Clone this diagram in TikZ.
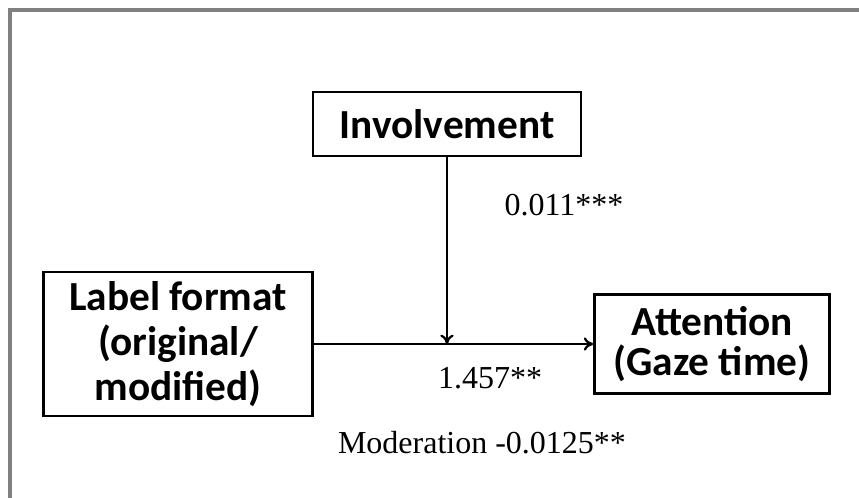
\documentclass[tikz,border=0pt]{standalone}
\usepackage{fontspec}
\setmainfont{Liberation Serif}
\newfontfamily\boxfont{Carlito}
\usetikzlibrary{arrows.meta,positioning}

\begin{document}
\begin{tikzpicture}[x=0.75pt,y=-0.75pt,
  var/.style={draw,line width=2.2pt,align=center,inner sep=0pt,
    font=\boxfont\bfseries\fontsize{31}{30}\selectfont},
  coef/.style={font=\fontsize{24}{28}\selectfont},
  arr/.style={-{To[length=7pt,width=10pt]},line width=1.7pt}]
\useasboundingbox (0,0) rectangle (859,498);
\draw[gray,line width=2.4pt] (10,498) -- (10,10) -- (859,10);
\node[var,minimum width=201pt,minimum height=48pt] (inv) at (447,124) {Involvement};
\node[var,minimum width=202pt,minimum height=108pt,
  font=\boxfont\bfseries\fontsize{31}{34}\selectfont] (lab) at (178,344) {Label format\\(original/\\modified)};
\node[var,minimum width=176pt,minimum height=74pt] (att) at (712,344) {Attention\\(Gaze time)};
\coordinate (mid) at (inv.south |- lab.east);
\draw[arr] (lab.east) -- (att.west);
\draw[arr] (inv.south) -- (mid);
\node[coef] (c1) at (564,205) {0.011***};
\node[coef] (c2) at (490,378) {1.457**};
\node[coef] (c3) at (482,443) {Moderation -0.0125**};
\end{tikzpicture}
\end{document}
